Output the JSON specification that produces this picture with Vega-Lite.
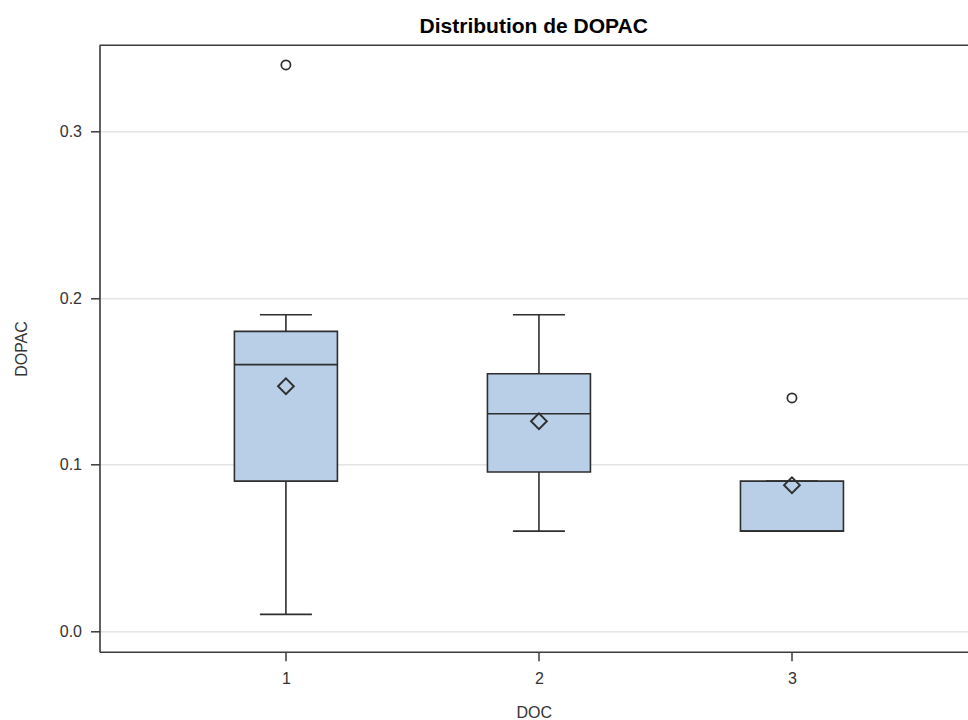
{
  "$schema": "https://vega.github.io/schema/vega-lite/v6.json",
  "width": 868.5,
  "height": 606.4,
  "autosize": "none",
  "padding": {"left": 99.5, "top": 45.3, "right": 0, "bottom": 68.3},
  "background": "white",
  "config": {
    "view": {"stroke": null},
    "font": "Liberation Sans"
  },
  "title": {
    "text": "Distribution de DOPAC",
    "font": "Liberation Sans",
    "fontSize": 21,
    "fontWeight": "bold",
    "color": "#000000",
    "anchor": "middle",
    "baseline": "bottom",
    "offset": 10,
    "dy": 23
  },
  "datasets": {
    "stats": [
      {"DOC": 1, "low": 0.01, "q1": 0.09, "median": 0.16, "q3": 0.18, "high": 0.19, "mean": 0.147},
      {"DOC": 2, "low": 0.06, "q1": 0.0955, "median": 0.1305, "q3": 0.1545, "high": 0.19, "mean": 0.126},
      {"DOC": 3, "low": 0.06, "q1": 0.06, "median": 0.06, "q3": 0.09, "high": 0.09, "mean": 0.0876}
    ],
    "outliers": [
      {"DOC": 1, "DOPAC": 0.34},
      {"DOC": 3, "DOPAC": 0.14}
    ]
  },
  "data": {"name": "stats"},
  "encoding": {
    "x": {
      "field": "DOC",
      "type": "quantitative",
      "scale": {"domain": [0.283, 3.676], "nice": false, "zero": false},
      "axis": {
        "title": "DOC",
        "values": [1, 2, 3],
        "format": "d",
        "grid": false,
        "domainColor": "#3a3a3a",
        "domainWidth": 1.6,
        "tickColor": "#3a3a3a",
        "tickWidth": 1.5,
        "tickSize": 9,
        "labelFont": "Liberation Sans",
        "labelFontSize": 16,
        "labelColor": "#333333",
        "labelPadding": 10,
        "titleFont": "Liberation Sans",
        "titleFontSize": 16,
        "titleFontWeight": "normal",
        "titleColor": "#333333",
        "titlePadding": 18
      }
    }
  },
  "layer": [
    {
      "data": {"values": [{}]},
      "mark": {"type": "rule", "color": "#3a3a3a", "strokeWidth": 1.6},
      "encoding": {
        "x": null,
        "y": {"datum": 0.3518, "type": "quantitative"}
      }
    },
    {
      "mark": {"type": "rule", "color": "#2e2e2e", "strokeWidth": 1.6},
      "encoding": {
        "y": {
          "field": "low",
          "type": "quantitative",
          "scale": {"domain": [-0.01243, 0.3518], "nice": false, "zero": false},
          "axis": {
            "title": "DOPAC",
            "values": [0, 0.1, 0.2, 0.3],
            "format": ".1f",
            "grid": true,
            "gridColor": "#e4e4e4",
            "gridWidth": 1.5,
            "domainColor": "#3a3a3a",
            "domainWidth": 1.6,
            "tickColor": "#3a3a3a",
            "tickWidth": 1.5,
            "tickSize": 9,
            "labelFont": "Liberation Sans",
            "labelFontSize": 16,
            "labelColor": "#333333",
            "labelPadding": 9,
            "titleFont": "Liberation Sans",
            "titleFontSize": 16,
            "titleFontWeight": "normal",
            "titleColor": "#333333",
            "titlePadding": 30
          }
        },
        "y2": {"field": "q1"}
      }
    },
    {
      "mark": {"type": "rule", "color": "#2e2e2e", "strokeWidth": 1.6},
      "encoding": {
        "y": {"field": "q3", "type": "quantitative"},
        "y2": {"field": "high"}
      }
    },
    {
      "mark": {"type": "tick", "orient": "horizontal", "size": 52, "thickness": 1.6, "color": "#2e2e2e", "opacity": 1},
      "encoding": {"y": {"field": "low", "type": "quantitative"}}
    },
    {
      "mark": {"type": "tick", "orient": "horizontal", "size": 52, "thickness": 1.6, "color": "#2e2e2e", "opacity": 1},
      "encoding": {"y": {"field": "high", "type": "quantitative"}}
    },
    {
      "mark": {"type": "bar", "size": 103, "fill": "#b9cfe7", "stroke": "#2e2e2e", "strokeWidth": 1.6},
      "encoding": {
        "y": {"field": "q1", "type": "quantitative"},
        "y2": {"field": "q3"}
      }
    },
    {
      "mark": {"type": "tick", "orient": "horizontal", "size": 103, "thickness": 1.6, "color": "#2e2e2e", "opacity": 1},
      "encoding": {"y": {"field": "median", "type": "quantitative"}}
    },
    {
      "mark": {"type": "point", "shape": "diamond", "filled": false, "size": 250, "stroke": "#2e2e2e", "strokeWidth": 1.9, "opacity": 1},
      "encoding": {"y": {"field": "mean", "type": "quantitative"}}
    },
    {
      "data": {"name": "outliers"},
      "mark": {"type": "point", "shape": "circle", "filled": false, "size": 85, "stroke": "#2e2e2e", "strokeWidth": 1.7, "opacity": 1},
      "encoding": {"y": {"field": "DOPAC", "type": "quantitative"}}
    }
  ]
}
